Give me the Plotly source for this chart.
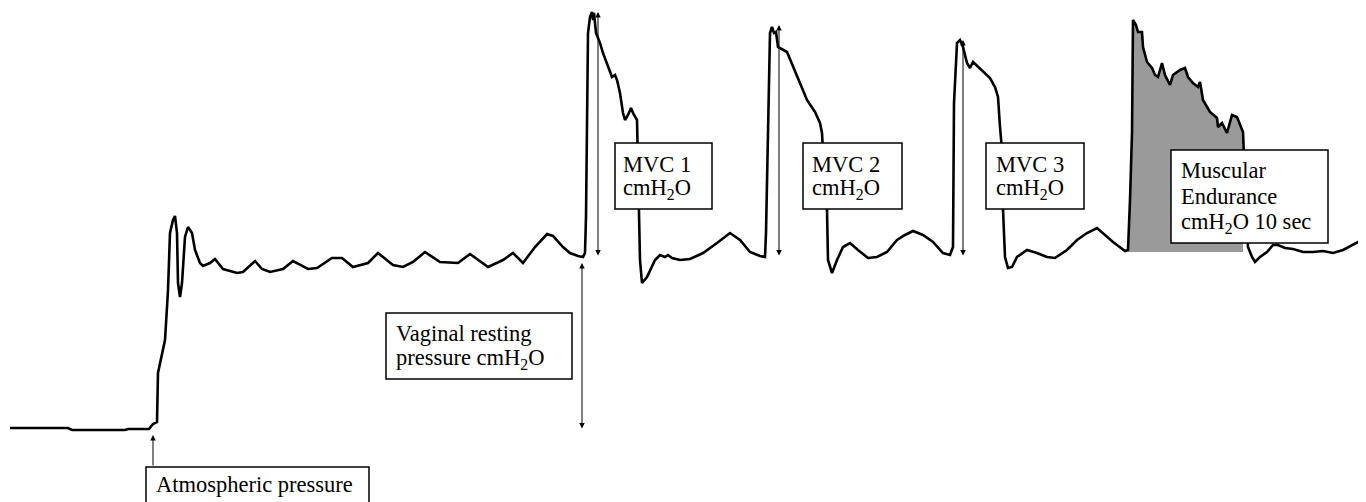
import numpy as np
import plotly.graph_objects as go

# ---- Pressure trace (time in samples, pressure in cmH2O-like units relative to atmospheric) ----
rise_time = [10, 68, 72, 125, 128, 149, 153, 157, 158, 162, 165, 167, 168, 170, 173, 175, 177, 178, 180, 182,
             185, 188, 192, 195, 200, 203, 210, 215, 223, 230, 237, 243]
rise_pressure = [2, 2, 0, 0, 1, 1, 6, 8, 57, 78, 90, 123, 140, 197, 210, 214, 197, 147, 133, 147,
                 193, 203, 197, 180, 167, 164, 167, 171, 161, 159, 157, 158]

rest_time = [255, 262, 270, 283, 293, 308, 317, 332, 342, 353, 368, 378, 393, 403, 413, 425, 440, 458, 470, 488,
             503, 513, 523, 535, 547, 553, 563, 570, 578, 583]
rest_pressure = [169, 161, 158, 161, 169, 161, 162, 172, 172, 163, 167, 177, 165, 163, 168, 178, 168, 167, 176, 163,
                 170, 177, 167, 183, 196, 194, 183, 177, 174, 173]

mvc1_time = [585, 586, 587, 588, 590, 592, 593, 594, 596, 600, 603, 608, 612, 615, 617, 620, 623, 625, 628, 631,
             633, 637, 638, 639, 640, 642, 647, 655, 660, 665, 668, 672, 680, 690, 703, 717, 730, 740, 750, 760, 765]
mvc1_pressure = [177, 213, 323, 397, 413, 418, 410, 417, 397, 387, 377, 363, 353, 355, 350, 337, 317, 310, 315, 322,
                 317, 310, 250, 220, 170, 147, 153, 170, 175, 173, 175, 172, 170, 171, 177, 187, 197, 190, 178, 174, 173]

mvc2_time = [766, 768, 770, 772, 774, 776, 778, 787, 793, 800, 807, 815, 820, 822, 824, 827, 828, 832, 837, 843,
             850, 858, 868, 877, 887, 897, 905, 913, 923, 933, 943, 950]
mvc2_pressure = [197, 303, 397, 403, 397, 398, 383, 378, 363, 347, 330, 318, 307, 297, 260, 220, 170, 157, 170, 183,
                 187, 180, 172, 173, 178, 190, 195, 199, 195, 188, 177, 175]

mvc3_time = [953, 954, 957, 960, 963, 967, 970, 973, 982, 990, 995, 998, 1000, 1002, 1003, 1005, 1008, 1012, 1017,
             1027, 1037, 1047, 1055, 1067, 1077, 1087, 1097, 1103, 1113, 1125]
mvc3_pressure = [183, 327, 387, 390, 383, 367, 362, 368, 360, 352, 343, 333, 303, 280, 221, 173, 162, 163, 173,
                 180, 177, 173, 172, 180, 190, 197, 202, 197, 188, 179]

endurance_time = [1128, 1130, 1132, 1133, 1136, 1138, 1142, 1143, 1147, 1152, 1155, 1158, 1162, 1165, 1170, 1173,
                  1180, 1185, 1188, 1193, 1198, 1200, 1203, 1210, 1217, 1218, 1222, 1227, 1232, 1237, 1240, 1243,
                  1245, 1248, 1252, 1255, 1260, 1267, 1273, 1278, 1285, 1293, 1303, 1313, 1323, 1333, 1343, 1353,
                  1358, 1366]
endurance_pressure = [180, 230, 297, 410, 405, 398, 398, 383, 368, 362, 355, 353, 367, 355, 345, 355,
                      360, 362, 353, 347, 343, 348, 330, 318, 312, 303, 307, 297, 315, 313, 305, 298,
                      250, 183, 173, 168, 173, 178, 185, 185, 182, 181, 178, 178, 179, 177, 180, 185,
                      188, 190]

# shaded 10-second endurance window
ENDURANCE_START = 1128
ENDURANCE_END = 1243
ENDURANCE_BASE = 178

time = np.array(rise_time + rest_time + mvc1_time + mvc2_time + mvc3_time + endurance_time, dtype=float)
pressure = np.array(rise_pressure + rest_pressure + mvc1_pressure + mvc2_pressure + mvc3_pressure
                    + endurance_pressure, dtype=float)

# ---- labels ----
FONT = "Liberation Serif, Times New Roman, serif"
FS = 22.5
labels = [
    # (x_left, y_center, text)
    (155, -54, "Atmospheric pressure"),
    (395, 97, "Vaginal resting"),
    (395, 71, "pressure cmH<sub>2</sub>O"),
    (622, 266, "MVC 1"), (622, 241, "cmH<sub>2</sub>O"),
    (811, 266, "MVC 2"), (811, 241, "cmH<sub>2</sub>O"),
    (995, 266, "MVC 3"), (995, 241, "cmH<sub>2</sub>O"),
    (1180, 260, "Muscular"), (1180, 234, "Endurance"), (1180, 207, "cmH<sub>2</sub>O 10 sec"),
]
boxes = [  # x0, x1, y_bottom, y_top
    (146, 369, -90, -37),
    (386, 572, 51, 117),
    (615, 712, 221, 287),
    (803, 902, 221, 287),
    (986, 1084, 221, 287),
    (1171, 1328, 187, 280),
]
# measurement arrows: x, top, bottom, double-headed?
arrows = [
    (598, 418, 173, True),
    (779, 405, 173, True),
    (963, 390, 173, True),
    (582, 167, 0, True),
    (153, -5, -37, False),
]

fig = go.Figure()

# shaded endurance area
mask = (time >= ENDURANCE_START) & (time <= ENDURANCE_END)
fx = list(time[mask])
fy = list(pressure[mask])
if fx[-1] < ENDURANCE_END:
    fx.append(ENDURANCE_END)
    fy.append(float(np.interp(ENDURANCE_END, time, pressure)))
fx += [ENDURANCE_END, ENDURANCE_START, ENDURANCE_START]
fy += [ENDURANCE_BASE, ENDURANCE_BASE, fy[0]]
fig.add_trace(go.Scatter(x=fx, y=fy, fill="toself", fillcolor="#9a9a9a", mode="none",
                         hoverinfo="skip"))

fig.add_trace(go.Scatter(x=time, y=pressure, mode="lines",
                         line=dict(color="black", width=2.6), hoverinfo="skip"))

shapes = []
for x0, x1, y0, y1 in boxes:
    shapes.append(dict(type="rect", xref="x", yref="y", x0=x0, x1=x1, y0=y0, y1=y1,
                       line=dict(color="black", width=1.5), fillcolor="white", layer="above"))

annotations = []
for x, top, bottom, double in arrows:
    annotations.append(dict(x=x, y=top, ax=x, ay=bottom, xref="x", yref="y", axref="x", ayref="y",
                            text="", showarrow=True, arrowhead=2, arrowsize=1.1, arrowwidth=1,
                            arrowcolor="black", arrowside="end+start" if double else "end",
                            standoff=0, startstandoff=0))
for x, y, t in labels:
    annotations.append(dict(x=x, y=y, xref="x", yref="y", text=t, showarrow=False,
                            xanchor="left", yanchor="middle", borderpad=0,
                            font=dict(family=FONT, size=FS, color="black")))

# the page body has an 8px margin: the figure is sized and ranged so that it fills the window exactly
fig.update_layout(
    width=1358, height=494,
    margin=dict(l=0, r=0, t=0, b=0),
    paper_bgcolor="white", plot_bgcolor="white",
    showlegend=False,
    xaxis=dict(range=[8, 1366], visible=False, fixedrange=True),
    yaxis=dict(range=[-72, 422], visible=False, fixedrange=True),
    shapes=shapes, annotations=annotations,
)

fig.write_html("out.html")
